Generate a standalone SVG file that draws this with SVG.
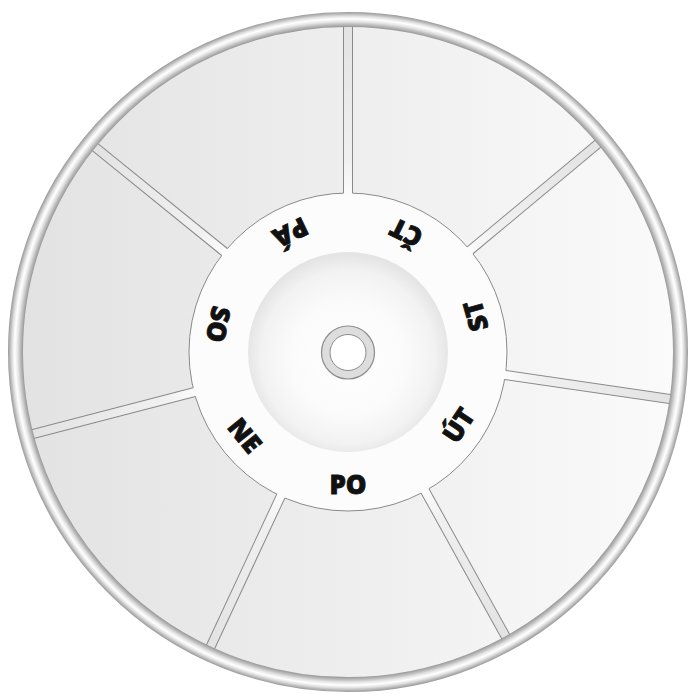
<svg xmlns="http://www.w3.org/2000/svg" width="693" height="698" viewBox="0 0 693 698">
  <defs>
    <linearGradient id="bodyGrad" gradientUnits="userSpaceOnUse" x1="10" y1="0" x2="686" y2="0">
      <stop offset="0" stop-color="#e2e2e2"/>
      <stop offset="0.5" stop-color="#eeeeee"/>
      <stop offset="1" stop-color="#fbfbfb"/>
    </linearGradient>
    <radialGradient id="rimGrad" gradientUnits="userSpaceOnUse" cx="348" cy="352" r="340">
      <stop offset="0.955" stop-color="#959595"/>
      <stop offset="0.962" stop-color="#b4b4b4"/>
      <stop offset="0.972" stop-color="#e6e6e6"/>
      <stop offset="0.980" stop-color="#ffffff"/>
      <stop offset="0.987" stop-color="#e4e4e4"/>
      <stop offset="0.995" stop-color="#b6b6b6"/>
      <stop offset="1" stop-color="#999999"/>
    </radialGradient>
    <linearGradient id="stripGrad" gradientUnits="userSpaceOnUse" x1="505" y1="0" x2="674" y2="0">
      <stop offset="0" stop-color="#fcfcfc"/>
      <stop offset="0.2" stop-color="#f0f0f0"/>
      <stop offset="1" stop-color="#e3e3e3"/>
    </linearGradient>
    <radialGradient id="dishGrad" gradientUnits="userSpaceOnUse" cx="348" cy="356" r="102" fx="348" fy="362">
      <stop offset="0" stop-color="#ffffff"/>
      <stop offset="0.55" stop-color="#fbfbfb"/>
      <stop offset="0.85" stop-color="#f2f2f2"/>
      <stop offset="1" stop-color="#e4e4e4"/>
    </radialGradient>
    <g id="sep">
      <rect x="505" y="347.5" width="171" height="9" fill="url(#stripGrad)"/>
      <line x1="506.9" y1="347.5" x2="675" y2="347.5" class="edge"/>
      <line x1="506.9" y1="356.5" x2="675" y2="356.5" class="edge"/>
    </g>
  </defs>
  <style>
    .edge { stroke: #8a8a8a; stroke-width: 1; fill: none; }
    .lbl { font-family: "Open Sans", "DejaVu Sans", sans-serif; font-weight: 800; font-size: 26px; fill: #111111; stroke: #111111; stroke-width: 0.8; text-anchor: middle; }
  </style>

  <rect width="693" height="698" fill="#ffffff"/>

  <g id="body">
    <circle cx="348" cy="352" r="326" fill="url(#bodyGrad)"/>
  </g>

  <g id="hub">
    <circle cx="348" cy="352" r="159" fill="#fcfcfc" stroke="#8a8a8a" stroke-width="1"/>
    <circle cx="348" cy="352" r="100" fill="url(#dishGrad)"/>
  </g>

  <g id="connectors">
    <use href="#sep" transform="rotate(-90 348 352)"/>
    <use href="#sep" transform="rotate(-39.8 348 352)"/>
    <use href="#sep" transform="rotate(8.3 348 352)"/>
    <use href="#sep" transform="rotate(61 348 352)"/>
    <use href="#sep" transform="rotate(115 348 352)"/>
    <use href="#sep" transform="rotate(165.4 348 352)"/>
    <use href="#sep" transform="rotate(219 348 352)"/>
  </g>

  <g id="rim">
    <circle cx="348" cy="352" r="332.5" fill="none" stroke="url(#rimGrad)" stroke-width="15"/>
  </g>

  <g id="center">
    <circle cx="348" cy="352.5" r="26.5" fill="#dddddd" stroke="#8c8c8c" stroke-width="1.2"/>
    <circle cx="348" cy="352.5" r="18" fill="#ffffff" stroke="#8c8c8c" stroke-width="1"/>
  </g>

  <g id="label-po"><text class="lbl" x="348" y="494">PO</text></g>
  <g id="label-ut"><text class="lbl" x="348" y="494" transform="rotate(-56.5 348 352)">ÚT</text></g>
  <g id="label-st"><text class="lbl" x="348" y="494" transform="rotate(-105.8 348 352)">ST</text></g>
  <g id="label-ct"><text class="lbl" x="348" y="494" transform="rotate(-154 348 352)">ČT</text></g>
  <g id="label-pa"><text class="lbl" x="348" y="494" transform="rotate(154.3 348 352)">PÁ</text></g>
  <g id="label-so"><text class="lbl" x="348" y="494" transform="rotate(102 348 352)">SO</text></g>
  <g id="label-ne"><text class="lbl" x="348" y="494" transform="rotate(51 348 352)">NE</text></g>
</svg>
